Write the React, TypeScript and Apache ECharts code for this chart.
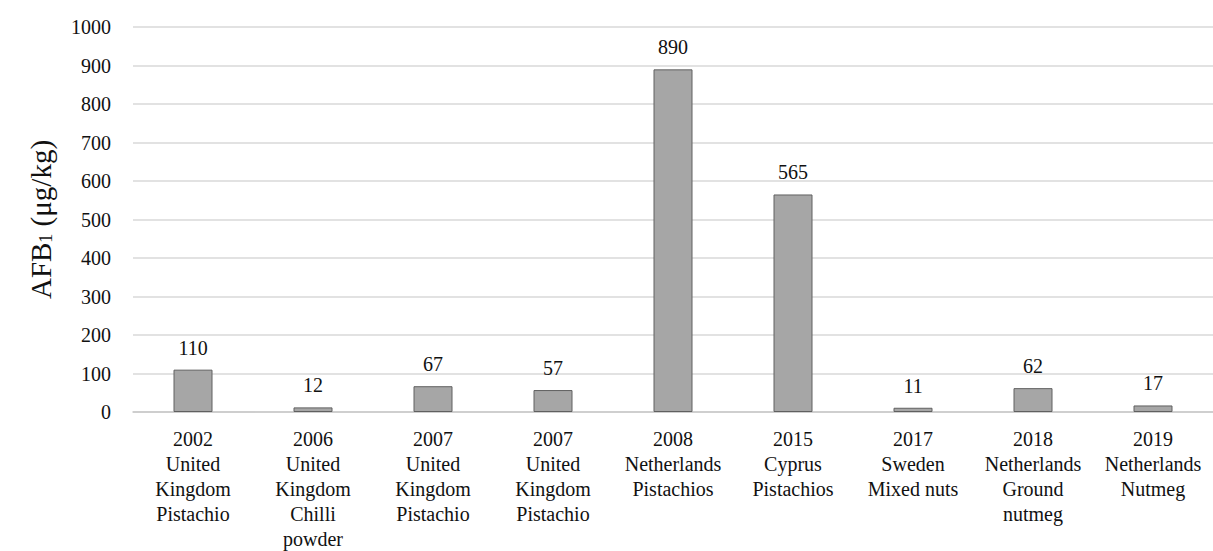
import React, { useEffect, useRef } from "react";
import * as echarts from "echarts";

const categories = [
  "2002\nUnited\nKingdom\nPistachio",
  "2006\nUnited\nKingdom\nChilli\npowder",
  "2007\nUnited\nKingdom\nPistachio",
  "2007\nUnited\nKingdom\nPistachio",
  "2008\nNetherlands\nPistachios",
  "2015\nCyprus\nPistachios",
  "2017\nSweden\nMixed nuts",
  "2018\nNetherlands\nGround\nnutmeg",
  "2019\nNetherlands\nNutmeg",
];
const values = [110, 12, 67, 57, 890, 565, 11, 62, 17];
const yTicks = { min: 0, max: 1000, interval: 100 };

const FONT = "Liberation Serif";

export default function App() {
  const ref = useRef<HTMLDivElement>(null);
  useEffect(() => {
    if (!ref.current) return;
    const chart = echarts.init(ref.current, undefined, { renderer: "svg" });
    chart.setOption({
      animation: false,
      textStyle: { fontFamily: FONT },
      grid: { left: 133, right: 0, top: 27, bottom: 139, containLabel: false },
      xAxis: {
        type: "category",
        data: categories,
        axisTick: { show: false },
        axisLine: { lineStyle: { color: "#c8c8c8", width: 1.5 } },
        axisLabel: {
          interval: 0,
          color: "#111",
          margin: 14,
          formatter: (v: string) => "{t|" + v.split("\n").join("}\n{t|") + "}",
          rich: { t: { fontFamily: FONT, fontSize: 20, lineHeight: 25, color: "#111" } },
        },
      },
      yAxis: {
        type: "value",
        min: yTicks.min,
        max: yTicks.max,
        interval: yTicks.interval,
        name: "{a|AFB}{s|1}{a| (μg/kg)}",
        nameLocation: "middle",
        nameGap: 78,
        nameRotate: 90,
        nameTextStyle: {
          rich: {
            a: { fontFamily: FONT, fontSize: 29, color: "#111" },
            s: { fontFamily: FONT, fontSize: 18, color: "#111", verticalAlign: "bottom", padding: [11, 0, 0, 0] },
          },
        },
        axisLine: { show: false },
        axisTick: { show: false },
        splitLine: { lineStyle: { color: "#d9d9d9", width: 1.5 } },
        axisLabel: {
          color: "#111",
          margin: 22,
          formatter: (v: number) => "{t|" + String(v) + "}",
          rich: { t: { fontFamily: FONT, fontSize: 20, color: "#111" } },
        },
      },
      series: [
        {
          type: "bar",
          data: values,
          barWidth: 39,
          itemStyle: { color: "#a6a6a6", borderColor: "#606060", borderWidth: 1 },
          label: {
            show: true,
            position: "top",
            distance: 12,
            formatter: (p: any) => "{t|" + p.value + "}",
            rich: { t: { fontFamily: FONT, fontSize: 20, color: "#111" } },
          },
        },
      ],
    });
    return () => chart.dispose();
  }, []);
  return (
    <div
      ref={ref}
      style={{ position: "fixed", left: 0, top: 0, width: 1213, height: 551, background: "#fff" }}
    />
  );
}
